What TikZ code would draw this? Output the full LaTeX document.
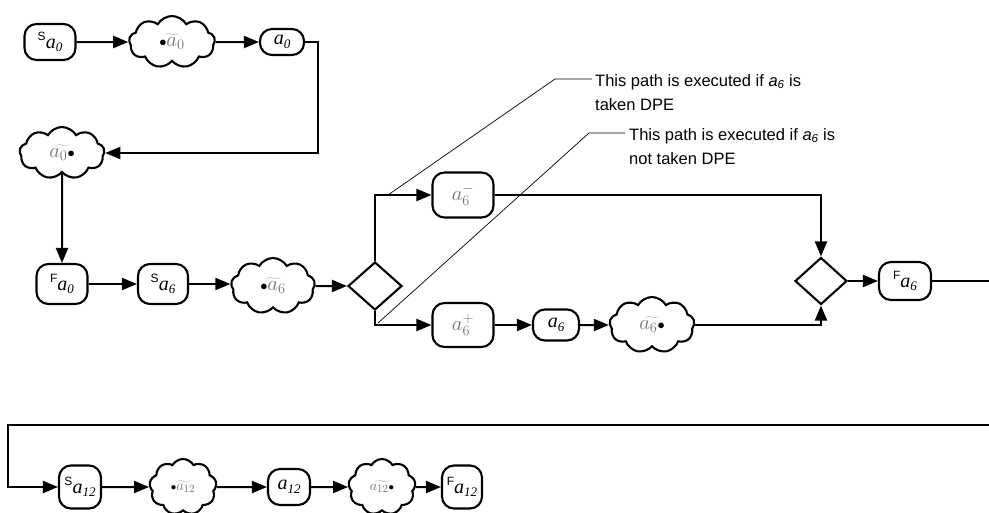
\documentclass[tikz,border=0pt]{standalone}
\usepackage{fontspec}
\setmainfont{Liberation Sans}
\newfontfamily\tnr{Liberation Serif}
\usetikzlibrary{shapes.symbols,shapes.geometric,arrows.meta}
\newcommand{\avar}[1]{{\tnr\itshape\fontsize{20}{20}\selectfont a\raisebox{-3.5pt}{\fontsize{13}{13}\selectfont #1}}}
\newcommand{\prefx}[1]{\raisebox{8pt}{\fontsize{12}{12}\selectfont #1}}
\newcommand{\blt}{\textcolor{black}{\scriptstyle\bullet}}
\begin{document}
\begin{tikzpicture}[x=1pt,y=-1pt,
 box/.style={draw,line width=2.1pt,rounded corners=12pt,inner sep=0pt},
 cld/.style={draw,cloud,cloud puffs=9,cloud puff arc=120,cloud ignores aspect,line width=2.1pt,inner sep=0pt,text=black!55,font=\fontsize{20.74}{22}\selectfont},
 dia/.style={draw,diamond,line width=2.1pt,minimum width=54pt,minimum height=48pt,inner sep=0pt},
 arr/.style={line width=2pt,-{Triangle[length=15pt,width=12pt]}},
 ln/.style={line width=2pt},
 leader/.style={line width=0.7pt},
 note/.style={align=left,inner sep=0pt,anchor=north west,font=\fontsize{16.5}{24}\selectfont}
]
\useasboundingbox (0,0) rectangle (989,512);
% row 1
\node[box,minimum width=51pt,minimum height=36pt] (sa0) at (50,42) {\prefx{S}\avar{0}};
\node[cld,minimum width=86pt,minimum height=52pt] (c0a) at (172,42) {$\widetilde{\blt a_0}$};
\node[box,minimum width=44pt,minimum height=26pt] (a0) at (282,42) {\avar{0}};
\node[cld,minimum width=85pt,minimum height=52pt] (c0b) at (62,153) {$\widetilde{a_0\blt}$};
% row 2
\node[box,minimum width=51pt,minimum height=40pt] (fa0) at (62,284) {\prefx{F}\avar{0}};
\node[box,minimum width=50pt,minimum height=40pt] (sa6) at (163,284) {\prefx{S}\avar{6}};
\node[cld,minimum width=84pt,minimum height=56pt] (c6a) at (273,286) {$\widetilde{\blt a_6}$};
\node[dia] (d1) at (375,286) {};
\node[box,minimum width=61pt,minimum height=45pt,text=black!55,font=\fontsize{20.74}{22}\selectfont] (a6m) at (463,195) {$a_6^-$};
\node[box,minimum width=61pt,minimum height=44pt,text=black!55,font=\fontsize{20.74}{22}\selectfont] (a6p) at (463,325) {$a_6^+$};
\node[box,minimum width=46pt,minimum height=31pt] (a6) at (556,325) {\avar{6}};
\node[cld,minimum width=85pt,minimum height=56pt] (c6b) at (652,325) {$\widetilde{a_6\blt}$};
\node[dia,minimum width=52pt,minimum height=47pt] (d2) at (821,281) {};
\node[box,minimum width=52pt,minimum height=38pt] (fa6) at (905,281) {\prefx{F}\avar{6}};
\coordinate (e1) at (989,281);
\coordinate (e2) at (989,425);
\coordinate (k1) at (8,425);
% row 3
\node[box,minimum width=42pt,minimum height=43pt] (sa12) at (80,487) {\prefx{S}\avar{12}};
\node[cld,minimum width=67pt,minimum height=56pt,font=\fontsize{15}{17}\selectfont] (c12a) at (183,487) {$\widetilde{\blt a_{12}}$};
\node[box,minimum width=42pt,minimum height=36pt] (a12) at (289,487) {\avar{12}};
\node[cld,minimum width=67pt,minimum height=56pt,font=\fontsize{15}{17}\selectfont] (c12b) at (382,487) {$\widetilde{a_{12}\blt}$};
\node[box,minimum width=40pt,minimum height=43pt] (fa12) at (462,487) {\prefx{F}\avar{12}};
% notes
\node[note] (t1) at (595,74) {This path is executed if \textit{a}\textsubscript{\textit{6}} is\\taken DPE};
\node[note] (t2) at (629,128) {This path is executed if \textit{a}\textsubscript{\textit{6}} is\\not taken DPE};
\coordinate (l1s) at (592,79);
\coordinate (l1b) at (555,79);
\coordinate (l1e) at (388,195);
\coordinate (l2s) at (625,133);
\coordinate (l2b) at (589,133);
\coordinate (l2e) at (378,323);
% connectors
\draw[arr] (sa0.east) -- (c0a.west);
\draw[arr] (c0a.east) -- (a0.west);
\draw[arr] (a0.east) -- ++(13,0) |- (c0b.east);
\draw[arr] (c0b.south) -- (fa0.north);
\draw[arr] (fa0.east) -- (sa6.west);
\draw[arr] (sa6.east) -- (sa6.east -| c6a.west);
\draw[arr] (c6a.east) -- (d1.west);
\draw[arr] (d1.north) |- (a6m.west);
\draw[arr] (d1.south) |- (a6p.west);
\draw[arr] (a6p.east) -- (a6.west);
\draw[arr] (a6.east) -- (c6b.west);
\draw[arr] (a6m.east) -| (d2.north);
\draw[arr] (c6b.east) -| (d2.south);
\draw[arr] (d2.east) -- (fa6.west);
\draw[ln] (fa6.east) -- (e1);
\draw[arr] (e2) -- (k1) |- (sa12.west);
\draw[arr] (sa12.east) -- (c12a.west);
\draw[arr] (c12a.east) -- (a12.west);
\draw[arr] (a12.east) -- (c12b.west);
\draw[arr] (c12b.east) -- (fa12.west);
\draw[leader] (l1s) -- (l1b) -- (l1e);
\draw[leader] (l2s) -- (l2b) -- (l2e);
\end{tikzpicture}
\end{document}
